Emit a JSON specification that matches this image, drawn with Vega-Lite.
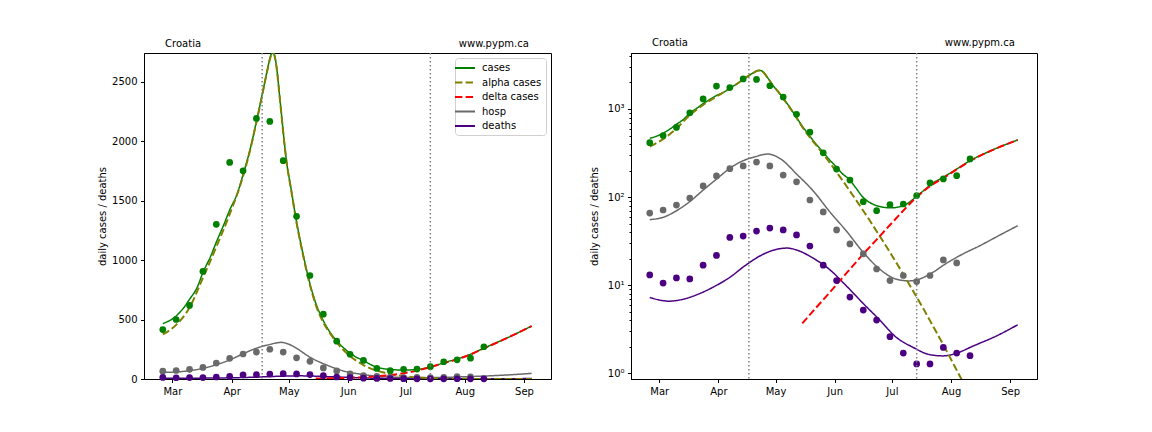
{
  "$schema": "https://vega.github.io/schema/vega-lite/v6.json",
  "background": "white",
  "autosize": {"type": "pad"},
  "padding": {"left": 97, "top": 37, "right": 5, "bottom": 5},
  "config": {
    "font": "DejaVu Sans",
    "view": {"stroke": "black", "strokeWidth": 1},
    "axis": {"grid": false, "domainColor": "black", "tickColor": "black", "labelColor": "black", "titleColor": "black", "labelFont": "DejaVu Sans", "titleFont": "DejaVu Sans", "labelFontSize": 10, "titleFontSize": 10, "titleFontWeight": "normal", "tickSize": 3.5, "labelPadding": 3.5},
    "legend": {"labelFont": "DejaVu Sans", "labelFontSize": 10, "labelColor": "black"}
  },
  "datasets": {
    "events": [{"date": "2021-04-17"}, {"date": "2021-07-14"}],
    "obs": [
      {"date": "2021-02-24", "series": "cases", "value": 415},
      {"date": "2021-03-03", "series": "cases", "value": 500},
      {"date": "2021-03-10", "series": "cases", "value": 618},
      {"date": "2021-03-17", "series": "cases", "value": 905},
      {"date": "2021-03-24", "series": "cases", "value": 1300},
      {"date": "2021-03-31", "series": "cases", "value": 1820},
      {"date": "2021-04-07", "series": "cases", "value": 1750},
      {"date": "2021-04-14", "series": "cases", "value": 2190},
      {"date": "2021-04-21", "series": "cases", "value": 2165},
      {"date": "2021-04-28", "series": "cases", "value": 1835},
      {"date": "2021-05-05", "series": "cases", "value": 1367},
      {"date": "2021-05-12", "series": "cases", "value": 870},
      {"date": "2021-05-19", "series": "cases", "value": 545},
      {"date": "2021-05-26", "series": "cases", "value": 318},
      {"date": "2021-06-02", "series": "cases", "value": 208},
      {"date": "2021-06-09", "series": "cases", "value": 156},
      {"date": "2021-06-16", "series": "cases", "value": 88.7},
      {"date": "2021-06-23", "series": "cases", "value": 70.2},
      {"date": "2021-06-30", "series": "cases", "value": 82},
      {"date": "2021-07-07", "series": "cases", "value": 83.5},
      {"date": "2021-07-14", "series": "cases", "value": 104},
      {"date": "2021-07-21", "series": "cases", "value": 145},
      {"date": "2021-07-28", "series": "cases", "value": 161},
      {"date": "2021-08-04", "series": "cases", "value": 175},
      {"date": "2021-08-11", "series": "cases", "value": 271},
      {"date": "2021-02-24", "series": "hosp", "value": 66},
      {"date": "2021-03-03", "series": "hosp", "value": 71.4},
      {"date": "2021-03-10", "series": "hosp", "value": 81.3},
      {"date": "2021-03-17", "series": "hosp", "value": 97.6},
      {"date": "2021-03-24", "series": "hosp", "value": 134},
      {"date": "2021-03-31", "series": "hosp", "value": 174},
      {"date": "2021-04-07", "series": "hosp", "value": 210},
      {"date": "2021-04-14", "series": "hosp", "value": 226},
      {"date": "2021-04-21", "series": "hosp", "value": 250},
      {"date": "2021-04-28", "series": "hosp", "value": 226},
      {"date": "2021-05-05", "series": "hosp", "value": 178},
      {"date": "2021-05-12", "series": "hosp", "value": 149},
      {"date": "2021-05-19", "series": "hosp", "value": 92.7},
      {"date": "2021-05-26", "series": "hosp", "value": 68},
      {"date": "2021-06-02", "series": "hosp", "value": 42.4},
      {"date": "2021-06-09", "series": "hosp", "value": 29.4},
      {"date": "2021-06-16", "series": "hosp", "value": 22.7},
      {"date": "2021-06-23", "series": "hosp", "value": 15.3},
      {"date": "2021-06-30", "series": "hosp", "value": 11.3},
      {"date": "2021-07-07", "series": "hosp", "value": 12.9},
      {"date": "2021-07-14", "series": "hosp", "value": 11.0},
      {"date": "2021-07-21", "series": "hosp", "value": 12.9},
      {"date": "2021-07-28", "series": "hosp", "value": 19.4},
      {"date": "2021-08-04", "series": "hosp", "value": 17.9},
      {"date": "2021-02-24", "series": "deaths", "value": 13.1},
      {"date": "2021-03-03", "series": "deaths", "value": 10.6},
      {"date": "2021-03-10", "series": "deaths", "value": 12.1},
      {"date": "2021-03-17", "series": "deaths", "value": 11.8},
      {"date": "2021-03-24", "series": "deaths", "value": 16.9},
      {"date": "2021-03-31", "series": "deaths", "value": 21.8},
      {"date": "2021-04-07", "series": "deaths", "value": 34.9},
      {"date": "2021-04-14", "series": "deaths", "value": 36.1},
      {"date": "2021-04-21", "series": "deaths", "value": 41.2},
      {"date": "2021-04-28", "series": "deaths", "value": 44.6},
      {"date": "2021-05-05", "series": "deaths", "value": 42.4},
      {"date": "2021-05-12", "series": "deaths", "value": 37.2},
      {"date": "2021-05-19", "series": "deaths", "value": 27.9},
      {"date": "2021-05-26", "series": "deaths", "value": 16.9},
      {"date": "2021-06-02", "series": "deaths", "value": 11.3},
      {"date": "2021-06-09", "series": "deaths", "value": 7.35},
      {"date": "2021-06-16", "series": "deaths", "value": 5.23},
      {"date": "2021-06-23", "series": "deaths", "value": 4.03},
      {"date": "2021-06-30", "series": "deaths", "value": 2.61},
      {"date": "2021-07-07", "series": "deaths", "value": 1.70},
      {"date": "2021-07-14", "series": "deaths", "value": 1.28},
      {"date": "2021-07-21", "series": "deaths", "value": 1.28},
      {"date": "2021-07-28", "series": "deaths", "value": 1.97},
      {"date": "2021-08-04", "series": "deaths", "value": 1.70},
      {"date": "2021-08-11", "series": "deaths", "value": 1.59}
    ],
    "model": [
      {"date": "2021-02-24", "series": "cases", "value": 466},
      {"date": "2021-03-01", "series": "cases", "value": 505},
      {"date": "2021-03-03", "series": "cases", "value": 530},
      {"date": "2021-03-07", "series": "cases", "value": 600},
      {"date": "2021-03-10", "series": "cases", "value": 670},
      {"date": "2021-03-14", "series": "cases", "value": 770},
      {"date": "2021-03-17", "series": "cases", "value": 895},
      {"date": "2021-03-21", "series": "cases", "value": 1030},
      {"date": "2021-03-24", "series": "cases", "value": 1150},
      {"date": "2021-03-28", "series": "cases", "value": 1300},
      {"date": "2021-03-31", "series": "cases", "value": 1420},
      {"date": "2021-04-04", "series": "cases", "value": 1560},
      {"date": "2021-04-07", "series": "cases", "value": 1718},
      {"date": "2021-04-11", "series": "cases", "value": 1950},
      {"date": "2021-04-14", "series": "cases", "value": 2165},
      {"date": "2021-04-17", "series": "cases", "value": 2390},
      {"date": "2021-04-19", "series": "cases", "value": 2545},
      {"date": "2021-04-20", "series": "cases", "value": 2620},
      {"date": "2021-04-21", "series": "cases", "value": 2690},
      {"date": "2021-04-22", "series": "cases", "value": 2735},
      {"date": "2021-04-23", "series": "cases", "value": 2738},
      {"date": "2021-04-24", "series": "cases", "value": 2680},
      {"date": "2021-04-25", "series": "cases", "value": 2560},
      {"date": "2021-04-26", "series": "cases", "value": 2400},
      {"date": "2021-04-27", "series": "cases", "value": 2240},
      {"date": "2021-04-28", "series": "cases", "value": 2080},
      {"date": "2021-04-29", "series": "cases", "value": 1930},
      {"date": "2021-04-30", "series": "cases", "value": 1800},
      {"date": "2021-05-01", "series": "cases", "value": 1700},
      {"date": "2021-05-02", "series": "cases", "value": 1610},
      {"date": "2021-05-03", "series": "cases", "value": 1510},
      {"date": "2021-05-05", "series": "cases", "value": 1320},
      {"date": "2021-05-08", "series": "cases", "value": 1080},
      {"date": "2021-05-12", "series": "cases", "value": 800},
      {"date": "2021-05-15", "series": "cases", "value": 640},
      {"date": "2021-05-19", "series": "cases", "value": 490},
      {"date": "2021-05-22", "series": "cases", "value": 405},
      {"date": "2021-05-26", "series": "cases", "value": 322},
      {"date": "2021-05-29", "series": "cases", "value": 270},
      {"date": "2021-06-02", "series": "cases", "value": 218},
      {"date": "2021-06-05", "series": "cases", "value": 185},
      {"date": "2021-06-09", "series": "cases", "value": 156},
      {"date": "2021-06-12", "series": "cases", "value": 128},
      {"date": "2021-06-16", "series": "cases", "value": 99},
      {"date": "2021-06-19", "series": "cases", "value": 88},
      {"date": "2021-06-23", "series": "cases", "value": 80},
      {"date": "2021-06-27", "series": "cases", "value": 76.5},
      {"date": "2021-07-01", "series": "cases", "value": 75.5},
      {"date": "2021-07-04", "series": "cases", "value": 77},
      {"date": "2021-07-07", "series": "cases", "value": 80},
      {"date": "2021-07-11", "series": "cases", "value": 90},
      {"date": "2021-07-14", "series": "cases", "value": 103},
      {"date": "2021-07-18", "series": "cases", "value": 120},
      {"date": "2021-07-21", "series": "cases", "value": 137},
      {"date": "2021-07-28", "series": "cases", "value": 168},
      {"date": "2021-08-04", "series": "cases", "value": 208},
      {"date": "2021-08-11", "series": "cases", "value": 259},
      {"date": "2021-08-18", "series": "cases", "value": 308},
      {"date": "2021-08-26", "series": "cases", "value": 367},
      {"date": "2021-09-05", "series": "cases", "value": 445},
      {"date": "2021-02-24", "series": "alpha cases", "value": 375},
      {"date": "2021-03-03", "series": "alpha cases", "value": 455},
      {"date": "2021-03-10", "series": "alpha cases", "value": 600},
      {"date": "2021-03-17", "series": "alpha cases", "value": 850},
      {"date": "2021-03-24", "series": "alpha cases", "value": 1110},
      {"date": "2021-03-31", "series": "alpha cases", "value": 1385},
      {"date": "2021-04-07", "series": "alpha cases", "value": 1705},
      {"date": "2021-04-11", "series": "alpha cases", "value": 1945},
      {"date": "2021-04-14", "series": "alpha cases", "value": 2160},
      {"date": "2021-04-17", "series": "alpha cases", "value": 2385},
      {"date": "2021-04-19", "series": "alpha cases", "value": 2540},
      {"date": "2021-04-20", "series": "alpha cases", "value": 2615},
      {"date": "2021-04-21", "series": "alpha cases", "value": 2685},
      {"date": "2021-04-22", "series": "alpha cases", "value": 2730},
      {"date": "2021-04-23", "series": "alpha cases", "value": 2733},
      {"date": "2021-04-24", "series": "alpha cases", "value": 2675},
      {"date": "2021-04-25", "series": "alpha cases", "value": 2555},
      {"date": "2021-04-26", "series": "alpha cases", "value": 2395},
      {"date": "2021-04-27", "series": "alpha cases", "value": 2235},
      {"date": "2021-04-28", "series": "alpha cases", "value": 2075},
      {"date": "2021-04-29", "series": "alpha cases", "value": 1925},
      {"date": "2021-04-30", "series": "alpha cases", "value": 1795},
      {"date": "2021-05-01", "series": "alpha cases", "value": 1695},
      {"date": "2021-05-02", "series": "alpha cases", "value": 1605},
      {"date": "2021-05-03", "series": "alpha cases", "value": 1505},
      {"date": "2021-05-05", "series": "alpha cases", "value": 1312},
      {"date": "2021-05-08", "series": "alpha cases", "value": 1070},
      {"date": "2021-05-12", "series": "alpha cases", "value": 790},
      {"date": "2021-05-15", "series": "alpha cases", "value": 625},
      {"date": "2021-05-19", "series": "alpha cases", "value": 475},
      {"date": "2021-05-22", "series": "alpha cases", "value": 396},
      {"date": "2021-05-26", "series": "alpha cases", "value": 307},
      {"date": "2021-05-29", "series": "alpha cases", "value": 252},
      {"date": "2021-06-02", "series": "alpha cases", "value": 192},
      {"date": "2021-06-05", "series": "alpha cases", "value": 156},
      {"date": "2021-06-09", "series": "alpha cases", "value": 117},
      {"date": "2021-06-12", "series": "alpha cases", "value": 94},
      {"date": "2021-06-16", "series": "alpha cases", "value": 70},
      {"date": "2021-06-19", "series": "alpha cases", "value": 56},
      {"date": "2021-06-23", "series": "alpha cases", "value": 41},
      {"date": "2021-06-27", "series": "alpha cases", "value": 30},
      {"date": "2021-07-01", "series": "alpha cases", "value": 21.8},
      {"date": "2021-07-04", "series": "alpha cases", "value": 17.1},
      {"date": "2021-07-07", "series": "alpha cases", "value": 13.3},
      {"date": "2021-07-11", "series": "alpha cases", "value": 9.5},
      {"date": "2021-07-14", "series": "alpha cases", "value": 7.35},
      {"date": "2021-07-18", "series": "alpha cases", "value": 5.19},
      {"date": "2021-07-21", "series": "alpha cases", "value": 3.97},
      {"date": "2021-07-25", "series": "alpha cases", "value": 2.77},
      {"date": "2021-07-28", "series": "alpha cases", "value": 2.11},
      {"date": "2021-08-01", "series": "alpha cases", "value": 1.45},
      {"date": "2021-08-04", "series": "alpha cases", "value": 1.09},
      {"date": "2021-08-08", "series": "alpha cases", "value": 0.746},
      {"date": "2021-08-11", "series": "alpha cases", "value": 0.557},
      {"date": "2021-08-18", "series": "alpha cases", "value": 0.3},
      {"date": "2021-08-26", "series": "alpha cases", "value": 0.13},
      {"date": "2021-09-05", "series": "alpha cases", "value": 0.05},
      {"date": "2021-05-15", "series": "delta cases", "value": 3.69},
      {"date": "2021-05-22", "series": "delta cases", "value": 5.48},
      {"date": "2021-05-29", "series": "delta cases", "value": 8.1},
      {"date": "2021-06-05", "series": "delta cases", "value": 12.1},
      {"date": "2021-06-16", "series": "delta cases", "value": 22.6},
      {"date": "2021-06-23", "series": "delta cases", "value": 33},
      {"date": "2021-06-30", "series": "delta cases", "value": 48.2},
      {"date": "2021-07-07", "series": "delta cases", "value": 70.3},
      {"date": "2021-07-14", "series": "delta cases", "value": 100},
      {"date": "2021-07-21", "series": "delta cases", "value": 133},
      {"date": "2021-07-28", "series": "delta cases", "value": 165},
      {"date": "2021-08-04", "series": "delta cases", "value": 206},
      {"date": "2021-08-11", "series": "delta cases", "value": 257},
      {"date": "2021-08-18", "series": "delta cases", "value": 307},
      {"date": "2021-08-26", "series": "delta cases", "value": 366},
      {"date": "2021-09-05", "series": "delta cases", "value": 445},
      {"date": "2021-02-24", "series": "hosp", "value": 55.5},
      {"date": "2021-03-03", "series": "hosp", "value": 59},
      {"date": "2021-03-10", "series": "hosp", "value": 70},
      {"date": "2021-03-17", "series": "hosp", "value": 89},
      {"date": "2021-03-24", "series": "hosp", "value": 120},
      {"date": "2021-03-31", "series": "hosp", "value": 160},
      {"date": "2021-04-07", "series": "hosp", "value": 212},
      {"date": "2021-04-14", "series": "hosp", "value": 259},
      {"date": "2021-04-21", "series": "hosp", "value": 290},
      {"date": "2021-04-25", "series": "hosp", "value": 305},
      {"date": "2021-04-27", "series": "hosp", "value": 308},
      {"date": "2021-05-01", "series": "hosp", "value": 292},
      {"date": "2021-05-04", "series": "hosp", "value": 268},
      {"date": "2021-05-12", "series": "hosp", "value": 183},
      {"date": "2021-05-21", "series": "hosp", "value": 116},
      {"date": "2021-05-29", "series": "hosp", "value": 70},
      {"date": "2021-06-07", "series": "hosp", "value": 41.6},
      {"date": "2021-06-16", "series": "hosp", "value": 23.6},
      {"date": "2021-06-25", "series": "hosp", "value": 15.0},
      {"date": "2021-07-03", "series": "hosp", "value": 11.8},
      {"date": "2021-07-10", "series": "hosp", "value": 11.2},
      {"date": "2021-07-14", "series": "hosp", "value": 11.5},
      {"date": "2021-07-22", "series": "hosp", "value": 13.8},
      {"date": "2021-07-29", "series": "hosp", "value": 17.4},
      {"date": "2021-08-07", "series": "hosp", "value": 22.5},
      {"date": "2021-08-16", "series": "hosp", "value": 28},
      {"date": "2021-08-26", "series": "hosp", "value": 36.5},
      {"date": "2021-09-05", "series": "hosp", "value": 47.4},
      {"date": "2021-02-24", "series": "deaths", "value": 7.28},
      {"date": "2021-03-01", "series": "deaths", "value": 6.8},
      {"date": "2021-03-06", "series": "deaths", "value": 6.6},
      {"date": "2021-03-13", "series": "deaths", "value": 6.9},
      {"date": "2021-03-20", "series": "deaths", "value": 7.7},
      {"date": "2021-03-29", "series": "deaths", "value": 9.46},
      {"date": "2021-04-07", "series": "deaths", "value": 12.3},
      {"date": "2021-04-15", "series": "deaths", "value": 16.7},
      {"date": "2021-04-24", "series": "deaths", "value": 22.2},
      {"date": "2021-05-02", "series": "deaths", "value": 25.7},
      {"date": "2021-05-07", "series": "deaths", "value": 26.4},
      {"date": "2021-05-13", "series": "deaths", "value": 24.7},
      {"date": "2021-05-20", "series": "deaths", "value": 20.7},
      {"date": "2021-05-29", "series": "deaths", "value": 15.3},
      {"date": "2021-06-07", "series": "deaths", "value": 9.9},
      {"date": "2021-06-16", "series": "deaths", "value": 6.2},
      {"date": "2021-06-25", "series": "deaths", "value": 3.96},
      {"date": "2021-07-03", "series": "deaths", "value": 2.6},
      {"date": "2021-07-12", "series": "deaths", "value": 1.98},
      {"date": "2021-07-21", "series": "deaths", "value": 1.63},
      {"date": "2021-07-28", "series": "deaths", "value": 1.58},
      {"date": "2021-08-04", "series": "deaths", "value": 1.70},
      {"date": "2021-08-13", "series": "deaths", "value": 2.06},
      {"date": "2021-08-25", "series": "deaths", "value": 2.67},
      {"date": "2021-09-05", "series": "deaths", "value": 3.56}
    ]
  },
  "spacing": 36,
  "resolve": {
    "scale": {"x": "independent", "y": "independent", "color": "independent", "strokeDash": "independent"},
    "legend": {"color": "independent", "strokeDash": "independent"}
  },
  "hconcat": [
    {
      "width": 407,
      "height": 326,
      "layer": [
        {
          "data": {"name": "model"},
          "transform": [{"filter": "datum.series == 'cases' || datum.series == 'hosp' || datum.series == 'deaths'"}],
          "mark": {"type": "line", "strokeWidth": 1.5, "clip": true, "interpolate": "monotone"},
          "encoding": {
            "x": {"field": "date", "type": "temporal", "scale": {"type": "utc", "domain": [{"year": 2021, "month": "feb", "date": 14, "hours": 4, "utc": true}, {"year": 2021, "month": "sep", "date": 15, "hours": 3, "utc": true}]}, "axis": {"title": null, "format": "%b", "tickCount": {"interval": "month", "step": 1}, "labelFlush": false, "labelOverlap": false}},
            "y": {"field": "value", "type": "quantitative", "scale": {"domain": [0, 2740], "nice": false, "zero": false}, "axis": {"title": "daily cases / deaths", "values": [0, 500, 1000, 1500, 2000, 2500], "format": "d", "titlePadding": 4}},
            "color": {"field": "series", "type": "nominal", "scale": {"domain": ["cases", "alpha cases", "delta cases", "hosp", "deaths"], "range": ["#008000", "#808000", "#ff0000", "#696969", "#4b0082"]}, "legend": {"title": null, "orient": "top-right", "offset": 5, "padding": 4, "strokeColor": "#d0d0d0", "fillColor": "white", "cornerRadius": 3, "symbolType": "M-2,0H2", "symbolSize": 100, "symbolStrokeWidth": 2, "rowPadding": 3.5, "labelOffset": 11}},
            "strokeDash": {"field": "series", "type": "nominal", "scale": {"domain": ["cases", "alpha cases", "delta cases", "hosp", "deaths"], "range": [[1, 0], [7.4, 3.2], [7.4, 3.2], [1, 0], [1, 0]]}, "legend": {"title": null, "orient": "top-right", "offset": 5, "padding": 4, "strokeColor": "#d0d0d0", "fillColor": "white", "cornerRadius": 3, "symbolType": "M-2,0H2", "symbolSize": 100, "symbolStrokeWidth": 2, "rowPadding": 3.5, "labelOffset": 11}}
          }
        },
        {
          "data": {"name": "model"},
          "transform": [{"filter": "datum.series == 'alpha cases' || datum.series == 'delta cases'"}],
          "mark": {"type": "line", "strokeWidth": 2, "clip": true, "interpolate": "monotone"},
          "encoding": {
            "x": {"field": "date", "type": "temporal"},
            "y": {"field": "value", "type": "quantitative"},
            "color": {"field": "series", "type": "nominal"},
            "strokeDash": {"field": "series", "type": "nominal"}
          }
        },
        {
          "data": {"name": "obs"},
          "transform": [{"filter": "datum.series == 'cases'"}],
          "mark": {"type": "circle", "size": 45, "opacity": 1, "color": "#008000"},
          "encoding": {"x": {"field": "date", "type": "temporal"}, "y": {"field": "value", "type": "quantitative"}}
        },
        {
          "data": {"name": "obs"},
          "transform": [{"filter": "datum.series == 'hosp'"}],
          "mark": {"type": "circle", "size": 45, "opacity": 1, "color": "#696969"},
          "encoding": {"x": {"field": "date", "type": "temporal"}, "y": {"field": "value", "type": "quantitative"}}
        },
        {
          "data": {"name": "obs"},
          "transform": [{"filter": "datum.series == 'deaths'"}],
          "mark": {"type": "circle", "size": 45, "opacity": 1, "color": "#4b0082"},
          "encoding": {"x": {"field": "date", "type": "temporal"}, "y": {"field": "value", "type": "quantitative"}}
        },
        {
          "data": {"name": "events"},
          "mark": {"type": "rule", "color": "#808080", "strokeWidth": 1.5, "strokeDash": [1.5, 2.5]},
          "encoding": {"x": {"field": "date", "type": "temporal"}}
        },
        {
          "data": {"values": [{}]},
          "mark": {"type": "text", "align": "left", "baseline": "alphabetic", "fontSize": 10, "font": "DejaVu Sans", "color": "black"},
          "encoding": {
            "x": {"datum": {"year": 2021, "month": "feb", "date": 25, "hours": 5, "utc": true}, "type": "temporal"},
            "y": {"datum": 2794, "type": "quantitative"},
            "text": {"value": "Croatia"}
          }
        },
        {
          "data": {"values": [{}]},
          "mark": {"type": "text", "align": "right", "baseline": "alphabetic", "fontSize": 10, "font": "DejaVu Sans", "color": "black"},
          "encoding": {
            "x": {"datum": {"year": 2021, "month": "sep", "date": 3, "hours": 12, "utc": true}, "type": "temporal"},
            "y": {"datum": 2794, "type": "quantitative"},
            "text": {"value": "www.pypm.ca"}
          }
        }
      ]
    },
    {
      "width": 406,
      "height": 326,
      "resolve": {"axis": {"y": "independent"}},
      "layer": [
        {
          "data": {"name": "model"},
          "transform": [{"filter": "datum.series == 'cases' || datum.series == 'hosp' || datum.series == 'deaths'"}],
          "mark": {"type": "line", "strokeWidth": 1.5, "clip": true, "interpolate": "monotone"},
          "encoding": {
            "x": {"field": "date", "type": "temporal", "scale": {"type": "utc", "domain": [{"year": 2021, "month": "feb", "date": 14, "hours": 4, "utc": true}, {"year": 2021, "month": "sep", "date": 15, "hours": 3, "utc": true}]}, "axis": {"title": null, "format": "%b", "tickCount": {"interval": "month", "step": 1}, "labelFlush": false, "labelOverlap": false}},
            "y": {"field": "value", "type": "quantitative", "scale": {"type": "log", "domain": [0.864, 4315], "nice": false}, "axis": {"orient": "left", "title": "daily cases / deaths", "values": [1, 10, 100, 1000], "labelExpr": "datum.value == 1 ? '10⁰' : datum.value == 10 ? '10¹' : datum.value == 100 ? '10²' : '10³'", "titlePadding": 8}},
            "color": {"field": "series", "type": "nominal", "scale": {"domain": ["cases", "alpha cases", "delta cases", "hosp", "deaths"], "range": ["#008000", "#808000", "#ff0000", "#696969", "#4b0082"]}, "legend": null},
            "strokeDash": {"field": "series", "type": "nominal", "scale": {"domain": ["cases", "alpha cases", "delta cases", "hosp", "deaths"], "range": [[1, 0], [7.4, 3.2], [7.4, 3.2], [1, 0], [1, 0]]}, "legend": null}
          }
        },
        {
          "data": {"name": "model"},
          "transform": [{"filter": "datum.series == 'alpha cases' || datum.series == 'delta cases'"}],
          "mark": {"type": "line", "strokeWidth": 2, "clip": true, "interpolate": "monotone"},
          "encoding": {
            "x": {"field": "date", "type": "temporal"},
            "y": {"field": "value", "type": "quantitative", "axis": {"orient": "left", "title": null, "labels": false, "domain": false, "tickSize": 2, "values": [2, 3, 4, 5, 6, 7, 8, 9, 20, 30, 40, 50, 60, 70, 80, 90, 200, 300, 400, 500, 600, 700, 800, 900, 2000, 3000, 4000]}},
            "color": {"field": "series", "type": "nominal", "legend": null},
            "strokeDash": {"field": "series", "type": "nominal", "legend": null}
          }
        },
        {
          "data": {"name": "obs"},
          "transform": [{"filter": "datum.series == 'cases'"}],
          "mark": {"type": "circle", "size": 45, "opacity": 1, "color": "#008000"},
          "encoding": {"x": {"field": "date", "type": "temporal"}, "y": {"field": "value", "type": "quantitative", "axis": null}}
        },
        {
          "data": {"name": "obs"},
          "transform": [{"filter": "datum.series == 'hosp'"}],
          "mark": {"type": "circle", "size": 45, "opacity": 1, "color": "#696969"},
          "encoding": {"x": {"field": "date", "type": "temporal"}, "y": {"field": "value", "type": "quantitative", "axis": null}}
        },
        {
          "data": {"name": "obs"},
          "transform": [{"filter": "datum.series == 'deaths'"}],
          "mark": {"type": "circle", "size": 45, "opacity": 1, "color": "#4b0082"},
          "encoding": {"x": {"field": "date", "type": "temporal"}, "y": {"field": "value", "type": "quantitative", "axis": null}}
        },
        {
          "data": {"name": "events"},
          "mark": {"type": "rule", "color": "#808080", "strokeWidth": 1.5, "strokeDash": [1.5, 2.5]},
          "encoding": {"x": {"field": "date", "type": "temporal"}}
        },
        {
          "data": {"values": [{}]},
          "mark": {"type": "text", "align": "left", "baseline": "alphabetic", "fontSize": 10, "font": "DejaVu Sans", "color": "black"},
          "encoding": {
            "x": {"datum": {"year": 2021, "month": "feb", "date": 25, "hours": 5, "utc": true}, "type": "temporal"},
            "y": {"datum": 5180, "type": "quantitative", "axis": null},
            "text": {"value": "Croatia"}
          }
        },
        {
          "data": {"values": [{}]},
          "mark": {"type": "text", "align": "right", "baseline": "alphabetic", "fontSize": 10, "font": "DejaVu Sans", "color": "black"},
          "encoding": {
            "x": {"datum": {"year": 2021, "month": "sep", "date": 3, "hours": 12, "utc": true}, "type": "temporal"},
            "y": {"datum": 5180, "type": "quantitative", "axis": null},
            "text": {"value": "www.pypm.ca"}
          }
        }
      ]
    }
  ]
}
